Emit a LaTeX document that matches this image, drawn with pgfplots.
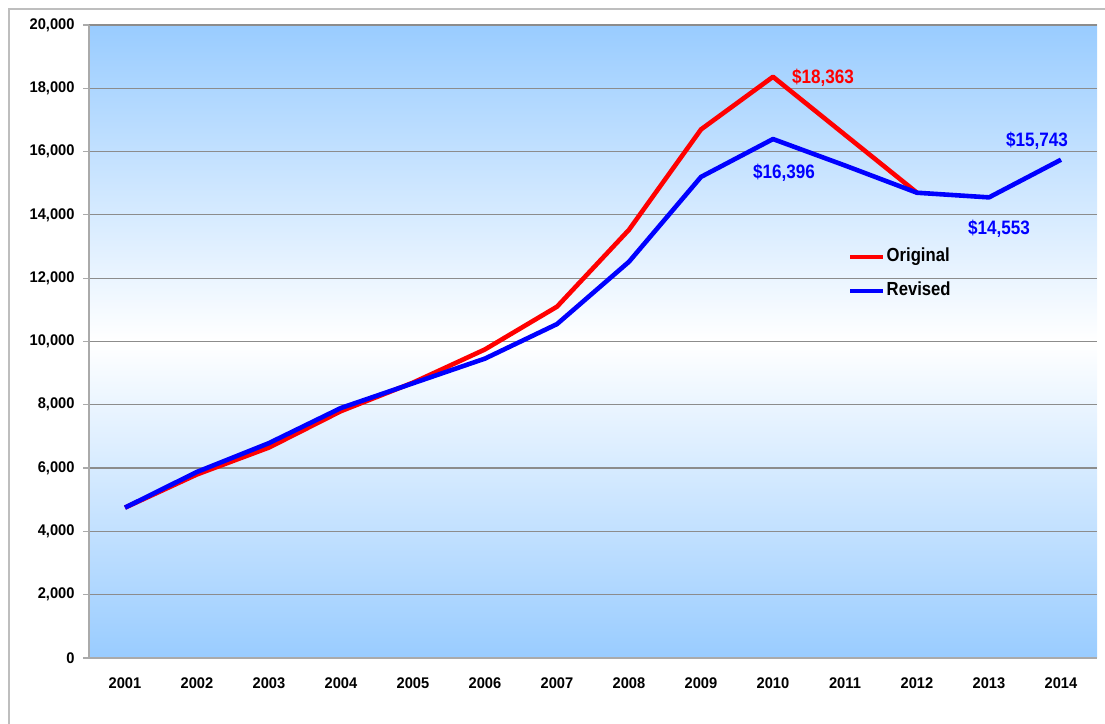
\documentclass[border=0pt]{standalone}
\usepackage{pgfplots}
\pgfplotsset{compat=1.18}
\usepackage{fontspec}
\setmainfont{Liberation Sans}[FakeStretch=0.88]
\newfontfamily\tickfont{Liberation Sans}[FakeStretch=0.95]
\definecolor{skyb}{RGB}{153,204,255}
\definecolor{gridg}{RGB}{140,140,140}
\definecolor{frameg}{RGB}{190,190,190}
\definecolor{axg}{RGB}{170,170,170}
\begin{document}
\begin{tikzpicture}[x=1bp,y=1bp]
\path[use as bounding box] (0,0) rectangle (1105,724);
\draw[frameg, line width=1.3bp] (9,0) -- (9,715) -- (1105,715);
\begin{axis}[
  at={(89bp,66bp)}, anchor=south west,
  scale only axis, width=1008bp, height=633bp,
  xmin=-0.5, xmax=13.5, ymin=0, ymax=20000,
  axis background/.style={shade, top color=skyb, bottom color=skyb, middle color=white},
  axis lines*=left,
  axis line style={axg, line width=1.2bp, -},
  xtick={0,1,2,3,4,5,6,7,8,9,10,11,12,13},
  xticklabels={2001,2002,2003,2004,2005,2006,2007,2008,2009,2010,2011,2012,2013,2014},
  xtick style={draw=none},
  extra x ticks={-0.5,0.5,1.5,2.5,3.5,4.5,5.5,6.5,7.5,8.5,9.5,10.5,11.5,12.5,13.5},
  extra x tick labels={},
  extra x tick style={grid=none, tick style={axg, line width=1.2bp}},
  ytick={0,2000,...,20000},
  ytick style={axg, line width=1.2bp},
  tick align=outside,
  major tick length=6bp,
  ymajorgrids,
  major grid style={gridg, line width=1.2bp},
  scaled y ticks=false,
  ticklabel style={font=\tickfont\bfseries\fontsize{15.5}{15.5}\selectfont, text=black},
  /pgf/number format/assume math mode=true,
  y tick label style={/pgf/number format/1000 sep={,}, xshift=-5bp},
  x tick label style={yshift=-10bp},
  clip=false,
  legend style={draw=none, fill=none, at={(0.753,0.6066)}, anchor=west,
    inner sep=0pt, row sep=15bp,
    nodes={inner sep=1bp, text height=13bp, text depth=4bp, font=\bfseries\fontsize{19}{19}\selectfont}},
  legend cell align=left,
  legend image code/.code={\draw[#1, line width=4.5bp] (0bp,0bp) -- (33bp,0bp);},
]
\addplot[red, line width=4.6bp, line join=round] coordinates {
  (0,4750) (1,5800) (2,6650) (3,7800) (4,8700) (5,9750) (6,11100) (7,13530)
  (8,16700) (9,18363) (10,16530) (11,14700)};
\addlegendentry{Original}
\addplot[blue, line width=4.6bp, line join=round] coordinates {
  (0,4750) (1,5880) (2,6790) (3,7900) (4,8680) (5,9460) (6,10550) (7,12520)
  (8,15200) (9,16396) (10,15560) (11,14700) (12,14553) (13,15743)};
\addlegendentry{Revised}
\node[red, font=\bfseries\fontsize{19.5}{19.5}\selectfont, anchor=west, inner sep=0pt, xshift=19bp, yshift=-1bp] at (axis cs:9,18363) {\$18,363};
\node[blue, font=\bfseries\fontsize{19.5}{19.5}\selectfont, inner sep=0pt, xshift=11bp, yshift=-34bp] at (axis cs:9,16396) {\$16,396};
\node[blue, font=\bfseries\fontsize{19.5}{19.5}\selectfont, inner sep=0pt, xshift=10bp, yshift=-31bp] at (axis cs:12,14553) {\$14,553};
\node[blue, font=\bfseries\fontsize{19.5}{19.5}\selectfont, inner sep=0pt, xshift=-24bp, yshift=19bp] at (axis cs:13,15743) {\$15,743};
\end{axis}
\end{tikzpicture}
\end{document}
